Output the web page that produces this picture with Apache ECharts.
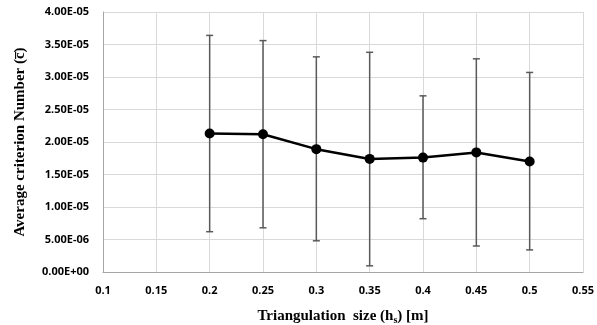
<!DOCTYPE html>
<html>
<head>
<meta charset="utf-8">
<script src="https://cdn.jsdelivr.net/npm/echarts@6/dist/echarts.min.js"></script>
<style>html,body{margin:0;padding:0;background:#fff;}#c{width:597px;height:325px;}</style>
</head>
<body>
<div id="c"></div>
<script>
var sizes = [0.2, 0.25, 0.3, 0.35, 0.4, 0.45, 0.5];
var means = [2.13e-5, 2.12e-5, 1.89e-5, 1.74e-5, 1.76e-5, 1.84e-5, 1.70e-5];
var lows  = [6.2e-6, 6.8e-6, 4.8e-6, 0.95e-6, 8.2e-6, 4.0e-6, 3.4e-6];
var highs = [3.64e-5, 3.56e-5, 3.31e-5, 3.38e-5, 2.71e-5, 3.28e-5, 3.07e-5];

function fmtY(v){
  if (v === 0) return '0.00E+00';
  var s = v.toExponential(2).split('e');
  var ex = parseInt(s[1], 10);
  var sign = ex < 0 ? '-' : '+';
  var a = Math.abs(ex);
  return s[0] + 'E' + sign + (a < 10 ? '0' : '') + a;
}

var chart = echarts.init(document.getElementById('c'), null, {renderer: 'canvas'});
var lineData = sizes.map(function(x, i){ return [x, means[i]]; });
var errData = sizes.map(function(x, i){ return [x, lows[i], highs[i]]; });

chart.setOption({
  animation: false,
  grid: {left: 103, right: 14, top: 12, bottom: 53, containLabel: false, outerBoundsMode: 'none'},
  xAxis: {
    type: 'value', min: 0.1, max: 0.55, interval: 0.05,
    axisLine: {lineStyle: {color: '#a6a6a6', width: 1}},
    axisTick: {show: false},
    splitLine: {show: true, lineStyle: {color: '#d9d9d9', width: 1}},
    axisLabel: {
      color: '#000', fontFamily: 'Open Sans', fontWeight: 'bold', fontSize: 11, margin: 13,
      formatter: function(v){ return String(Math.round(v * 100) / 100); }
    },
    name: '{a|Triangulation  size (h}{s|s}{a|) [m]}',
    nameLocation: 'middle', nameGap: 36,
    nameTextStyle: {
      rich: {
        a: {fontFamily: 'Liberation Serif', fontWeight: 'bold', fontSize: 15, color: '#000'},
        s: {fontFamily: 'Liberation Serif', fontWeight: 'bold', fontSize: 10, color: '#000', padding: [7, 0, 0, 0]}
      }
    }
  },
  yAxis: {
    type: 'value', min: 0, max: 4e-5, interval: 5e-6,
    axisLine: {show: true, lineStyle: {color: '#a6a6a6', width: 1}},
    axisTick: {show: false},
    splitLine: {show: true, lineStyle: {color: '#d9d9d9', width: 1}},
    axisLabel: {color: '#000', fontFamily: 'Open Sans', fontWeight: 'bold', fontSize: 11, margin: 14, formatter: fmtY},
    name: 'Average criterion Number (c\u0305)',
    nameLocation: 'middle', nameGap: 75,
    nameTextStyle: {fontFamily: 'Liberation Serif', fontWeight: 'bold', fontSize: 15, color: '#000'}
  },
  series: [
    {
      type: 'custom',
      data: errData,
      z: 1,
      renderItem: function(params, api){
        var x = api.value(0);
        var lo = api.coord([x, api.value(1)]);
        var hi = api.coord([x, api.value(2)]);
        var w = 3.5;
        var st = {stroke: '#595959', lineWidth: 1.5};
        return {
          type: 'group',
          children: [
            {type: 'line', shape: {x1: lo[0], y1: lo[1], x2: hi[0], y2: hi[1]}, style: st},
            {type: 'line', shape: {x1: lo[0] - w, y1: lo[1], x2: lo[0] + w, y2: lo[1]}, style: st},
            {type: 'line', shape: {x1: hi[0] - w, y1: hi[1], x2: hi[0] + w, y2: hi[1]}, style: st}
          ]
        };
      }
    },
    {
      type: 'line',
      data: lineData,
      z: 3,
      symbol: 'circle', symbolSize: 10,
      lineStyle: {color: '#000', width: 2.5},
      itemStyle: {color: '#000'}
    }
  ]
});
</script>
</body>
</html>
